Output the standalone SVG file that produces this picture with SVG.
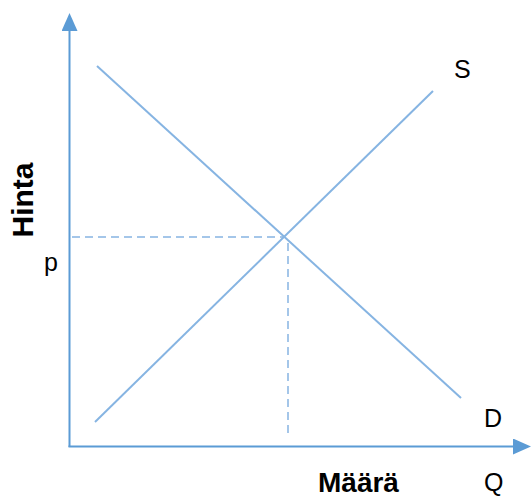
<svg xmlns="http://www.w3.org/2000/svg" width="531" height="499" viewBox="0 0 531 499">
<style>
.axis{stroke:#5b9bd5;stroke-width:2;fill:none}
.curve{stroke:#86b4e2;stroke-width:2;fill:none}
.dash{stroke:#86b4e2;stroke-width:1.5;fill:none;stroke-dasharray:8 5}
.lbl{font-family:"Liberation Sans",Arial,sans-serif;font-size:25px;fill:#000}
.bold{font-family:"Liberation Sans",Arial,sans-serif;font-weight:bold;fill:#000}
</style>
<defs>
<marker id="arr" viewBox="0 0 18 16" refX="0" refY="8" markerWidth="18" markerHeight="16" markerUnits="userSpaceOnUse" orient="auto">
<path d="M0,0 L18,8 L0,16 Z" fill="#5b9bd5"/>
</marker>
</defs>
<g id="connectors">
<line class="axis" x1="69.5" y1="447" x2="69.5" y2="31" marker-end="url(#arr)"/>
<line class="axis" x1="68.5" y1="446.5" x2="513" y2="446.5" marker-end="url(#arr)"/>
<line id="demand" class="curve" x1="97" y1="66" x2="461" y2="398"/>
<line id="supply" class="curve" x1="95" y1="422" x2="433" y2="91"/>
<line class="dash" x1="72" y1="237" x2="285" y2="237"/>
<line class="dash" x1="288" y1="243" x2="288" y2="433"/>
</g>
<g id="labels">
<text class="bold" font-size="30" transform="translate(33,200) rotate(-90)" text-anchor="middle">Hinta</text>
<text class="lbl" x="44" y="271">p</text>
<text class="lbl" x="454" y="78">S</text>
<text class="lbl" x="484" y="427">D</text>
<text class="lbl" x="484" y="491">Q</text>
<text class="bold" font-size="28" x="318" y="492">Määrä</text>
</g>
</svg>
